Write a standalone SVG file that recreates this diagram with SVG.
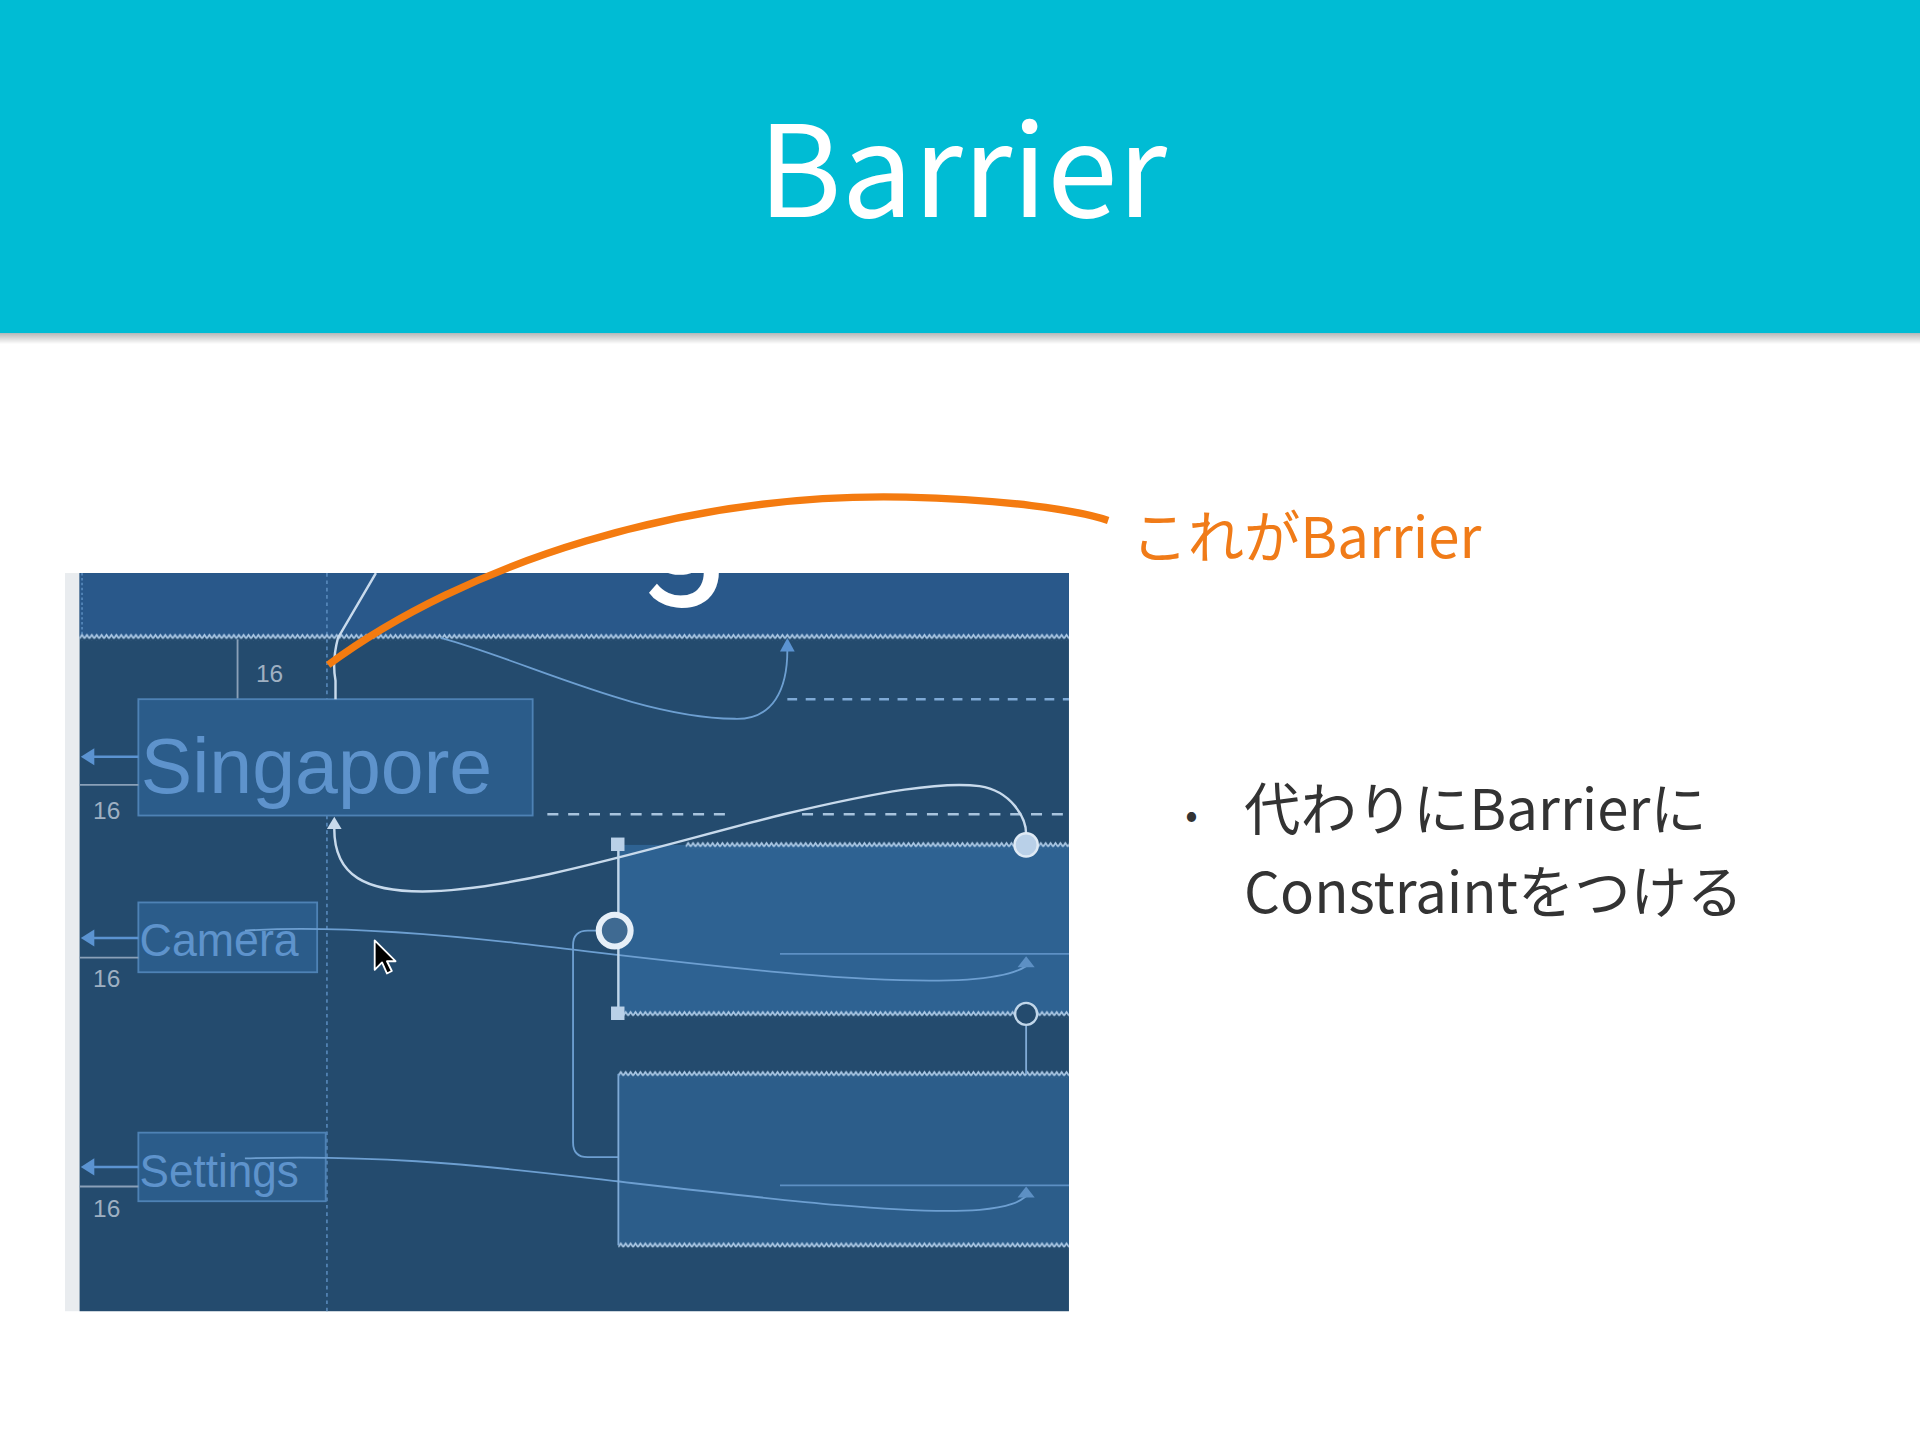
<svg xmlns="http://www.w3.org/2000/svg" width="1920" height="1440" viewBox="0 0 1920 1440">
  <style>
    .jp { font-family: "Noto Sans CJK JP", "Noto Sans", sans-serif; }
    .ui { font-family: "Liberation Sans", Arial, sans-serif; }
    .box { fill: #2b5c8a; stroke: #4e82b5; stroke-width: 1.5; }
    .boxtxt { fill: #5e93cc; }
    .dim { fill: #9fb0c2; font-size: 20px; }
    .gline { stroke: #8aa0b8; stroke-width: 1.5; fill: none; }
    .bl { stroke: #6d9fd1; stroke-width: 1.5; fill: none; }
    .wl { stroke: #c8daec; stroke-width: 2; fill: none; }
    .arr { fill: #5b93d1; }
    .handle { fill: #b9d0e8; }
  </style>
  <defs>
    <pattern id="zz" x="0" y="0" width="4" height="6" patternUnits="userSpaceOnUse">
      <path d="M0 4.5 L2 1.5 L4 4.5" stroke="#a9c6e3" stroke-width="1.4" fill="none"/>
    </pattern>
    <linearGradient id="shadow" x1="0" y1="0" x2="0" y2="1">
      <stop offset="0" stop-color="#000" stop-opacity="0.28"/>
      <stop offset="1" stop-color="#000" stop-opacity="0"/>
    </linearGradient>
    <clipPath id="panelClip">
      <rect x="53" y="468" width="820" height="603"/>
    </clipPath>
  </defs>

  <rect x="0" y="0" width="1920" height="1440" fill="#ffffff"/>

  <g transform="scale(1.2244898)">
    <g id="header">
      <rect x="0" y="0" width="1568" height="272" fill="#00BCD4"/>
      <rect x="0" y="272" width="1568" height="9" fill="url(#shadow)"/>
      <text class="jp" x="786" y="177" font-size="104" fill="#ffffff" text-anchor="middle">Barrier</text>
    </g>

    <g id="screenshot" clip-path="url(#panelClip)">
      <rect x="53" y="468" width="820" height="603" fill="#e9ecef"/>
      <rect x="65" y="468" width="808" height="603" fill="#244b6e"/>
      <rect x="65" y="468" width="808" height="52" fill="#29588a"/>
      <text x="520" y="468" font-family="Roboto, 'Liberation Sans', sans-serif" font-size="136" fill="#ffffff">g</text>

      <!-- guide lines -->
      <line x1="267" y1="468" x2="267" y2="1071" stroke="#5d8fc2" stroke-width="1.2" stroke-dasharray="3 3"/>
      <line x1="67" y1="468" x2="67" y2="520" stroke="#5d8fc2" stroke-width="1.2" stroke-dasharray="2 2"/>

      <!-- right boxes -->
      <rect x="505" y="690" width="368" height="138" fill="#2e6292"/>
      <rect x="505" y="877" width="368" height="140" fill="#2c5d8a"/>

      <!-- zigzag barriers -->
      <g transform="translate(65,517)"><rect x="0" y="0" width="808" height="6" fill="url(#zz)"/></g>
      <g transform="translate(560,687)"><rect x="0" y="0" width="313" height="6" fill="url(#zz)"/></g>
      <g transform="translate(505,825)"><rect x="0" y="0" width="368" height="6" fill="url(#zz)"/></g>
      <g transform="translate(505,874)"><rect x="0" y="0" width="368" height="6" fill="url(#zz)"/></g>
      <g transform="translate(505,1014)"><rect x="0" y="0" width="368" height="6" fill="url(#zz)"/></g>

      <!-- dashed guide lines -->
      <line x1="643" y1="571" x2="873" y2="571" stroke="#7faad6" stroke-width="2" stroke-dasharray="8 7"/>
      <line x1="447" y1="665" x2="595" y2="665" stroke="#a8c4de" stroke-width="2" stroke-dasharray="9 8"/>
      <line x1="655" y1="665" x2="873" y2="665" stroke="#a8c4de" stroke-width="2" stroke-dasharray="9 8"/>

      <line x1="637" y1="779" x2="873" y2="779" stroke="#5d90c4" stroke-width="1.5"/>
      <line x1="637" y1="968" x2="873" y2="968" stroke="#5d90c4" stroke-width="1.5"/>

      <!-- dimension marks -->
      <line class="gline" x1="194" y1="522" x2="194" y2="571"/>
      <text class="ui dim" x="209" y="557">16</text>

      <g id="node-singapore">
        <rect class="box" x="113" y="571" width="322" height="95"/>
        <text class="ui boxtxt" x="115" y="648" font-size="63" textLength="287" lengthAdjust="spacingAndGlyphs">Singapore</text>
        <line class="gline" x1="65" y1="641" x2="113" y2="641"/>
        <line x1="74" y1="618" x2="113" y2="618" stroke="#5b93d1" stroke-width="2"/>
        <polygon class="arr" points="66,618 77,611 77,625"/>
        <text class="ui dim" x="76" y="669">16</text>
      </g>

      <g id="node-camera">
        <rect class="box" x="113" y="737" width="146" height="57"/>
        <text class="ui boxtxt" x="114" y="781" font-size="37" textLength="130" lengthAdjust="spacingAndGlyphs">Camera</text>
        <line class="gline" x1="65" y1="782" x2="113" y2="782"/>
        <line x1="74" y1="766" x2="113" y2="766" stroke="#5b93d1" stroke-width="2"/>
        <polygon class="arr" points="66,766 77,759 77,773"/>
        <text class="ui dim" x="76" y="806">16</text>
      </g>

      <g id="node-settings">
        <rect class="box" x="113" y="925" width="153" height="56"/>
        <text class="ui boxtxt" x="114" y="969" font-size="37" textLength="130" lengthAdjust="spacingAndGlyphs">Settings</text>
        <line class="gline" x1="65" y1="969" x2="113" y2="969"/>
        <line x1="74" y1="953" x2="113" y2="953" stroke="#5b93d1" stroke-width="2"/>
        <polygon class="arr" points="66,953 77,946 77,960"/>
        <text class="ui dim" x="76" y="994">16</text>
      </g>

      <g id="connectors">
        <path class="wl" d="M 307 468 L 276 521 Q 271 540 274 556 L 274 571" stroke="#b8cde0" stroke-width="1.5"/>
        <path class="bl" d="M 360 521 C 430 540, 520 586, 600 587 C 632 588, 643 562, 643 531"/>
        <polygon class="arr" points="643,521 637,532 649,532"/>
        <path class="wl" d="M 273 677 C 273 716, 300 728, 345 728 C 420 728, 540 690, 640 665 C 720 646, 770 638, 800 642 C 826 646, 838 668, 838 681"/>
        <polygon points="273,667 267,677 279,677" fill="#c8daec"/>
        <path class="bl" d="M 200 760 C 260 756, 330 760, 420 770 C 560 786, 700 805, 790 800 C 820 798, 832 793, 838 789"/>
        <polygon points="838,781 831,790 845,790" fill="#5d90c4"/>
        <path class="bl" d="M 200 946 C 300 943, 380 950, 480 962 C 620 978, 740 993, 800 988 C 825 986, 833 981, 838 977"/>
        <polygon points="838,969 831,978 845,978" fill="#5d90c4"/>
        <path class="bl" d="M 497 760 L 480 760 Q 468 760 468 772 L 468 933 Q 468 945 480 945 L 505 945"/>
        <line x1="505" y1="689" x2="505" y2="828" stroke="#c0d6ea" stroke-width="2"/>
        <line x1="505" y1="877" x2="505" y2="1017" stroke="#7faad6" stroke-width="1.5"/>
        <line x1="838" y1="838" x2="838" y2="877" stroke="#7faad6" stroke-width="1.5"/>
      </g>

      <g id="handles">
        <rect class="handle" x="499" y="684" width="11" height="11"/>
        <rect class="handle" x="499" y="822" width="11" height="11"/>
        <circle cx="502" cy="760" r="13" fill="#3f6a92" stroke="#e6eff8" stroke-width="5"/>
        <circle cx="838" cy="690" r="9.5" fill="#b9d0e8" stroke="#dfeaf5" stroke-width="2"/>
        <circle cx="838" cy="828" r="9" fill="#244b6e" stroke="#c0d6ea" stroke-width="2"/>
      </g>

      <g id="cursor" transform="translate(306,768)">
        <polygon points="0,0 0,24 6,18 10,27 14,25 10,17 17,17" fill="#000000" stroke="#ffffff" stroke-width="1.5" stroke-linejoin="round"/>
      </g>
    </g>

    <g id="callout">
      <path d="M 268 543 C 380 460, 560 402, 740 406 C 820 408, 878 416, 905 425" fill="none" stroke="#F47B10" stroke-width="6"/>
      <text class="jp" x="924" y="456" font-size="46" fill="#F07B18">これがBarrier</text>
    </g>

    <g id="bullets">
      <text class="jp" x="968" y="676" font-size="30" fill="#333333">•</text>
      <text class="jp" x="1016" y="678" font-size="46" fill="#333333">代わりにBarrierに</text>
      <text class="jp" x="1016" y="746" font-size="46" fill="#333333">Constraintをつける</text>
    </g>
  </g>
</svg>
